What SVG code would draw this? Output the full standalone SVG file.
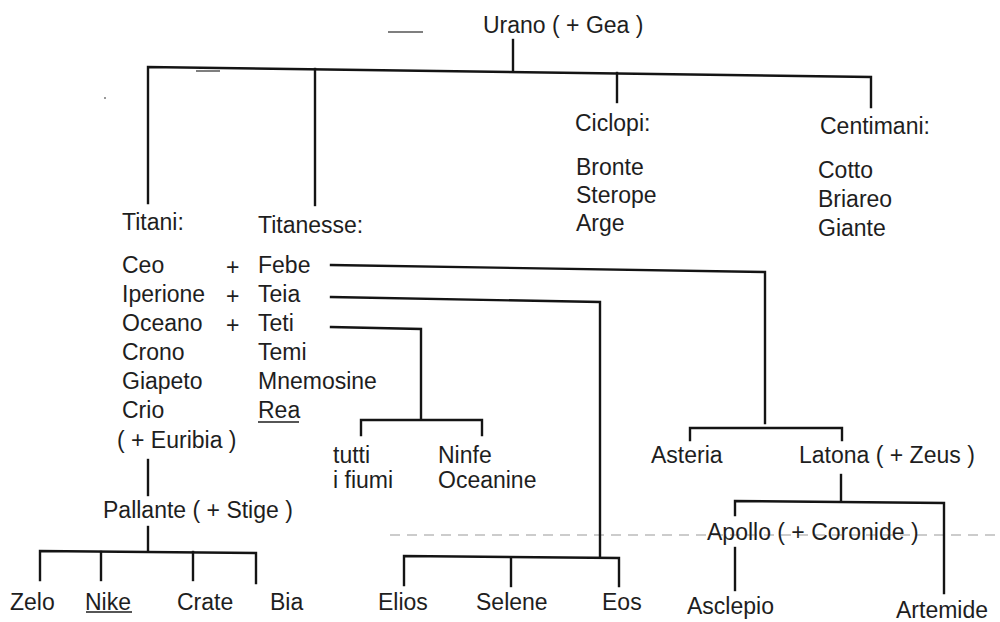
<svg xmlns="http://www.w3.org/2000/svg" width="1000" height="622" viewBox="0 0 1000 622">
<style>
text{font-family:"Liberation Sans",Arial,Helvetica,sans-serif;font-size:23px;fill:#1e1e1e}
.c{fill:none;stroke:#141414;stroke-width:2.4;stroke-linejoin:miter;stroke-linecap:square}
.u{stroke:#1e1e1e;stroke-width:1.4}
.n{fill:none;stroke:#555;stroke-width:1.5}
.s{fill:none;stroke:#999;stroke-width:1;stroke-dasharray:10 7}
</style>
<rect width="1000" height="622" fill="#fff"/>
<g id="noise">
<line class="n" x1="388" y1="32" x2="423" y2="32"/>
<line class="n" x1="196" y1="71" x2="220" y2="71"/>
<circle cx="105" cy="98" r="1" fill="#777"/>
<line class="s" x1="390" y1="535" x2="1000" y2="535"/>
</g>
<g id="connectors">
<path class="c" d="M513 40V70"/>
<path class="c" d="M148 203V67L871 77V107"/>
<path class="c" d="M315 69V205"/>
<path class="c" d="M617 73V102"/>
<path class="c" d="M331 265L765 272V423"/>
<path class="c" d="M690 440V428H842V440"/>
<path class="c" d="M331 297L600 302V557"/>
<path class="c" d="M404 585V556L619 558V586"/>
<path class="c" d="M511 558V586"/>
<path class="c" d="M331 327L421 329V419"/>
<path class="c" d="M361 435V420H482V435"/>
<path class="c" d="M148 460V495"/>
<path class="c" d="M148 527V551"/>
<path class="c" d="M40 580V551L256 553V583"/>
<path class="c" d="M101 552V580"/>
<path class="c" d="M193 552V580"/>
<path class="c" d="M841 475V501"/>
<path class="c" d="M735 515V501L944 503V593"/>
<path class="c" d="M735 548V590"/>
</g>
<g id="urano"><text x="483" y="33">Urano ( + Gea )</text></g>
<g id="titani">
<text x="122" y="230">Titani:</text>
<text x="122" y="273">Ceo</text>
<text x="122" y="302">Iperione</text>
<text x="122" y="331">Oceano</text>
<text x="122" y="360">Crono</text>
<text x="122" y="389">Giapeto</text>
<text x="122" y="418">Crio</text>
<text x="117" y="448">( + Euribia )</text>
<text x="226" y="275">+</text>
<text x="226" y="304">+</text>
<text x="226" y="333">+</text>
</g>
<g id="titanesse">
<text x="258" y="233">Titanesse:</text>
<text x="258" y="273">Febe</text>
<text x="258" y="302">Teia</text>
<text x="258" y="331">Teti</text>
<text x="258" y="360">Temi</text>
<text x="258" y="389">Mnemosine</text>
<text x="258" y="418">Rea</text>
<line class="u" x1="258" y1="422" x2="299" y2="422"/>
</g>
<g id="ciclopi">
<text x="575" y="131">Ciclopi:</text>
<text x="576" y="175">Bronte</text>
<text x="576" y="203">Sterope</text>
<text x="576" y="231">Arge</text>
</g>
<g id="centimani">
<text x="820" y="134">Centimani:</text>
<text x="818" y="178">Cotto</text>
<text x="818" y="207">Briareo</text>
<text x="818" y="236">Giante</text>
</g>
<g id="oceano-figli">
<text x="333" y="463">tutti</text>
<text x="333" y="488">i fiumi</text>
<text x="438" y="463">Ninfe</text>
<text x="438" y="488">Oceanine</text>
</g>
<g id="asteria"><text x="651" y="463">Asteria</text></g>
<g id="latona"><text x="799" y="463">Latona ( + Zeus )</text></g>
<g id="apollo"><text x="707" y="540">Apollo ( + Coronide )</text></g>
<g id="asclepio"><text x="687" y="614">Asclepio</text></g>
<g id="artemide"><text x="896" y="618">Artemide</text></g>
<g id="pallante"><text x="103" y="518">Pallante ( + Stige )</text></g>
<g id="zelo"><text x="10" y="610">Zelo</text></g>
<g id="nike"><text x="85" y="610">Nike</text><line class="u" x1="86" y1="612" x2="132" y2="612"/></g>
<g id="crate"><text x="177" y="610">Crate</text></g>
<g id="bia"><text x="270" y="610">Bia</text></g>
<g id="elios"><text x="378" y="610">Elios</text></g>
<g id="selene"><text x="476" y="610">Selene</text></g>
<g id="eos"><text x="602" y="610">Eos</text></g>
</svg>
